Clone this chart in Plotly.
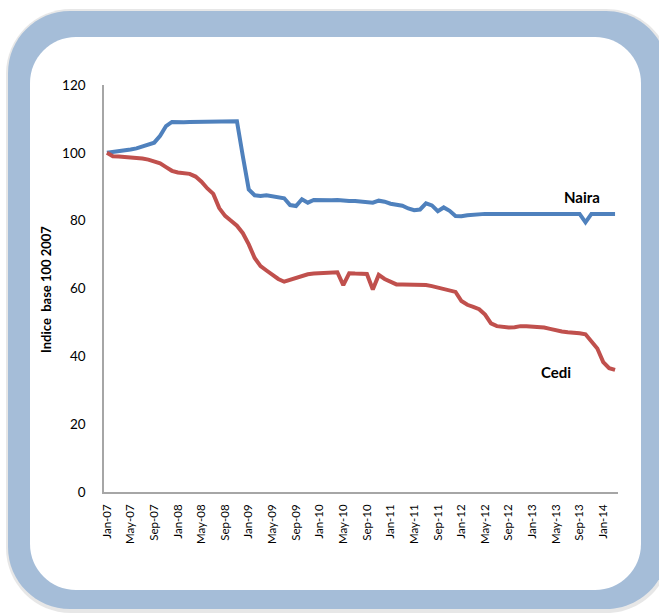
import plotly.graph_objects as go

# Monthly index, base 100 = January 2007
MONTHS = ["Jan", "Feb", "Mar", "Apr", "May", "Jun",
          "Jul", "Aug", "Sep", "Oct", "Nov", "Dec"]
YEARS = ["07", "08", "09", "10", "11", "12", "13", "14"]
N_POINTS = 87  # Jan-07 .. Mar-14

categories = [f"{m}-{y}" for y in YEARS for m in MONTHS][:N_POINTS]
tick_labels = categories[::4]

naira = [
    100.0, 100.2, 100.4, 100.8, 101.0, 101.3, 101.8, 102.4, 103.0, 105.0,
    107.9, 109.1, 109.0, 109.0, 109.1, 109.1, 109.2, 109.2, 109.2, 109.3,
    109.3, 109.3, 109.3, 99.0, 89.2, 87.5, 87.3, 87.5, 87.2, 87.0,
    86.6, 84.6, 84.3, 86.3, 85.3, 86.1, 86.0, 85.9, 86.0, 86.1,
    85.9, 85.8, 85.8, 85.6, 85.3, 85.3, 85.9, 85.6, 85.0, 84.7,
    84.4, 83.6, 83.1, 83.3, 85.1, 84.5, 82.8, 83.9, 82.9, 81.4,
    81.3, 81.6, 81.8, 81.9, 82.0, 82.0, 82.0, 82.0, 82.0, 82.0,
    82.0, 82.0, 82.0, 82.0, 82.0, 82.0, 82.0, 82.0, 82.0, 82.0,
    82.0, 79.5, 82.0, 82.0, 82.0, 82.0, 82.0,
]

cedi = [
    100.0, 99.0, 98.9, 98.8, 98.7, 98.6, 98.3, 98.0, 97.5, 96.9,
    95.8, 94.7, 94.2, 94.0, 93.8, 93.0, 91.5, 89.5, 87.9, 83.7,
    81.4, 80.0, 78.5, 76.3, 73.0, 69.0, 66.6, 65.3, 64.0, 62.8,
    62.0, 62.5, 63.2, 63.8, 64.2, 64.4, 64.5, 64.5, 64.6, 64.8,
    61.0, 64.5, 64.4, 64.3, 64.3, 59.7, 64.0, 62.8, 62.0, 61.2,
    61.2, 61.2, 61.2, 61.2, 61.0, 60.7, 60.3, 59.8, 59.5, 59.0,
    56.3, 55.2, 54.6, 53.9, 52.3, 49.7, 48.9, 48.6, 48.5, 48.6,
    48.9, 48.9, 48.8, 48.7, 48.5, 48.1, 47.6, 47.3, 47.1, 47.0,
    46.8, 46.5, 44.5, 42.3, 38.3, 36.5, 36.0,
]

W, H = 659, 615
PLOT_L, PLOT_R, PLOT_T, PLOT_B = 104, 618, 85, 492
FONT = "Lato, 'Open Sans', sans-serif"


def px(x, y):
    """Pixel position -> paper coordinates."""
    return ((x - PLOT_L) / (PLOT_R - PLOT_L), (PLOT_B - y) / (PLOT_B - PLOT_T))


def rounded_rect(x0, y0, x1, y1, r):
    k = 0.5523 * r

    def P(x, y):
        a, b = px(x, y)
        return f"{a:.5f},{b:.5f}"

    return " ".join([
        f"M {P(x0 + r, y0)}",
        f"L {P(x1 - r, y0)}",
        f"C {P(x1 - r + k, y0)} {P(x1, y0 + r - k)} {P(x1, y0 + r)}",
        f"L {P(x1, y1 - r)}",
        f"C {P(x1, y1 - r + k)} {P(x1 - r + k, y1)} {P(x1 - r, y1)}",
        f"L {P(x0 + r, y1)}",
        f"C {P(x0 + r - k, y1)} {P(x0, y1 - r + k)} {P(x0, y1 - r)}",
        f"L {P(x0, y0 + r)}",
        f"C {P(x0, y0 + r - k)} {P(x0 + r - k, y0)} {P(x0 + r, y0)}",
        "Z",
    ])


fig = go.Figure()

fig.add_trace(go.Scatter(
    x=categories, y=naira, mode="lines", name="Naira",
    line=dict(color="#4F81BD", width=4),
))
fig.add_trace(go.Scatter(
    x=categories, y=cedi, mode="lines", name="Cedi",
    line=dict(color="#C0504D", width=4),
))

shapes = [
    # soft shadow around the frame
    dict(type="path", xref="paper", yref="paper", layer="below",
         path=rounded_rect(6, 9, 671, 613, 65),
         fillcolor="rgba(160,160,160,0.25)", line=dict(width=0)),
    # blue frame
    dict(type="path", xref="paper", yref="paper", layer="below",
         path=rounded_rect(8, 11, 668, 609, 62),
         fillcolor="#A5BDD8", line=dict(width=0)),
    # white panel
    dict(type="path", xref="paper", yref="paper", layer="below",
         path=rounded_rect(30, 37, 641, 590, 46),
         fillcolor="#FFFFFF", line=dict(width=0)),
]

ax, ay = px(582, 197)
cx, cy = px(556, 372)
tx, ty = px(46, 290)

annotations = [
    dict(xref="paper", yref="paper", x=ax, y=ay, xanchor="center", yanchor="middle",
         text="<b>Naira</b>", showarrow=False,
         font=dict(family=FONT, size=15, color="#000000")),
    dict(xref="paper", yref="paper", x=cx, y=cy, xanchor="center", yanchor="middle",
         text="<b>Cedi</b>", showarrow=False,
         font=dict(family=FONT, size=15, color="#000000")),
    dict(xref="paper", yref="paper", x=tx, y=ty, xanchor="center", yanchor="middle",
         text="<b>Indice  base 100 2007</b>", textangle=-90, showarrow=False,
         font=dict(family=FONT, size=13, color="#000000")),
]

fig.update_layout(
    width=W, height=H,
    margin=dict(l=PLOT_L, r=W - PLOT_R, t=PLOT_T, b=H - PLOT_B, pad=0),
    paper_bgcolor="#FFFFFF",
    plot_bgcolor="rgba(0,0,0,0)",
    showlegend=False,
    shapes=shapes,
    annotations=annotations,
    font=dict(family=FONT, color="#000000"),
)

fig.update_xaxes(
    type="category",
    categoryorder="array", categoryarray=categories,
    range=[-0.5, N_POINTS - 0.5],
    tickmode="array", tickvals=tick_labels, ticktext=tick_labels,
    tickangle=-90, tickfont=dict(family=FONT, size=11.5, color="#000000"),
    showgrid=False, zeroline=False,
    showline=True, linecolor="#A6A6A6", linewidth=1.5,
    ticks="", ticklabelstandoff=6,
)
fig.update_yaxes(
    range=[0, 120], dtick=20, tick0=0,
    tickfont=dict(family=FONT, size=13.5, color="#000000"),
    showgrid=False, zeroline=False,
    showline=True, linecolor="#A6A6A6", linewidth=1.5,
    ticks="", ticklabelstandoff=14,
)

fig.write_html("out.html")
